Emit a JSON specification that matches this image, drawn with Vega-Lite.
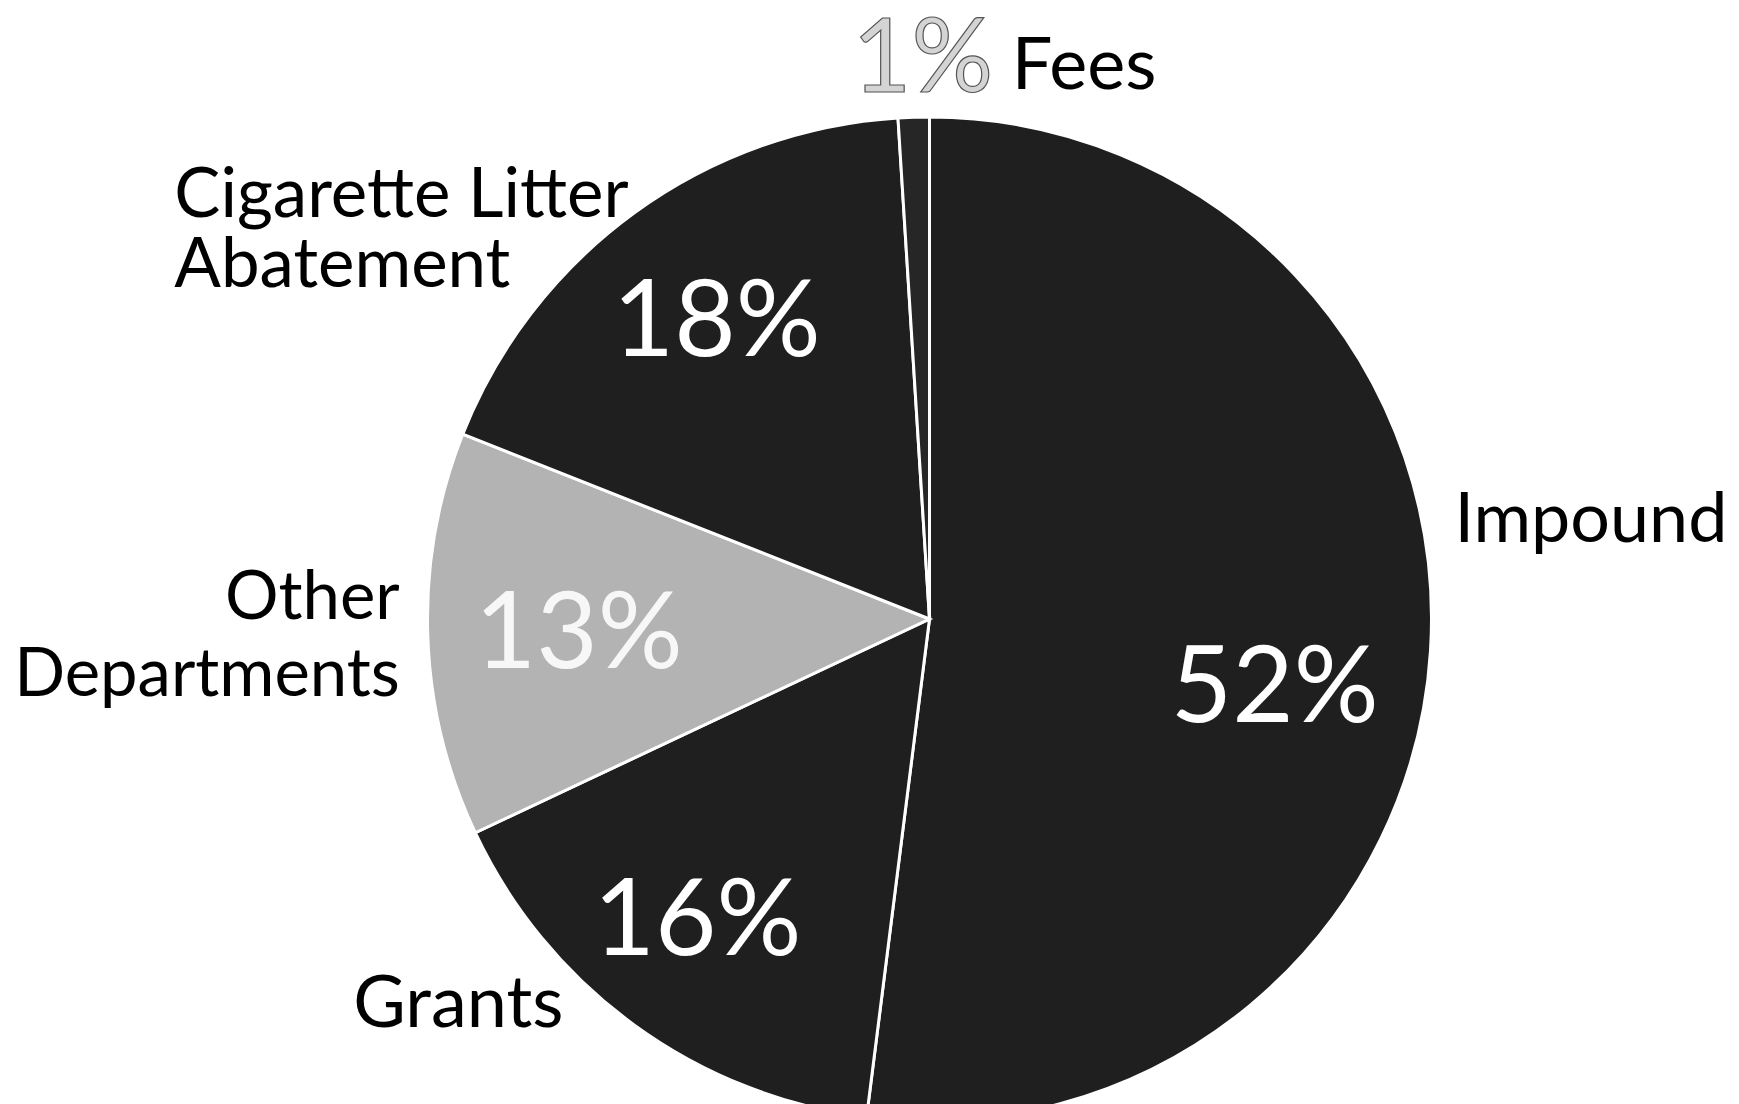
{
  "$schema": "https://vega.github.io/schema/vega-lite/v6.json",
  "autosize": {"type": "fit", "contains": "padding"},
  "width": 1739,
  "height": 1104,
  "padding": {"left": 3, "top": 0, "right": 0, "bottom": 0},
  "background": "white",
  "config": {"view": {"stroke": null}, "text": {"font": "Lato"}},
  "data": {
    "values": [
      {"cat": "Impound", "value": 52, "pct": "52%", "name": "Impound", "rank": 1},
      {"cat": "Grants", "value": 16, "pct": "16%", "name": "Grants", "rank": 2},
      {"cat": "Other Departments", "value": 13, "pct": "13%", "name": "Other\nDepartments", "rank": 3},
      {"cat": "Cigarette Litter Abatement", "value": 18, "pct": "18%", "name": "Cigarette Litter\nAbatement", "rank": 4},
      {"cat": "Fees", "value": 1, "pct": "1%", "name": "Fees", "rank": 5}
    ]
  },
  "encoding": {
    "theta": {"field": "value", "type": "quantitative", "stack": true},
    "order": {"field": "rank", "type": "quantitative"},
    "detail": {"field": "cat", "type": "nominal"}
  },
  "layer": [
    {
      "mark": {"type": "arc", "outerRadius": 502, "stroke": "white", "strokeWidth": 3},
      "encoding": {
        "color": {
          "field": "cat", "type": "nominal", "legend": null,
          "scale": {
            "domain": ["Impound", "Grants", "Other Departments", "Cigarette Litter Abatement", "Fees"],
            "range": ["#1f1f1f", "#1f1f1f", "#b3b3b3", "#1f1f1f", "#262626"]
          }
        }
      }
    },
    {
      "mark": {"type": "text", "radius": 345, "dx": 1, "dy": 81, "align": "center", "baseline": "alphabetic", "fontSize": 106, "color": "white"},
      "encoding": {"text": {"condition": {"test": "datum.cat === 'Impound'", "field": "pct"}, "value": ""}}
    },
    {
      "mark": {"type": "text", "radius": 367, "dx": 3, "dy": 34, "align": "center", "baseline": "alphabetic", "fontSize": 106, "color": "white"},
      "encoding": {"text": {"condition": {"test": "datum.cat === 'Cigarette Litter Abatement'", "field": "pct"}, "value": ""}}
    },
    {
      "mark": {"type": "text", "radius": 351, "dx": 0, "dy": 38, "align": "center", "baseline": "alphabetic", "fontSize": 106, "color": "white", "opacity": 0.9},
      "encoding": {"text": {"condition": {"test": "datum.cat === 'Other Departments'", "field": "pct"}, "value": ""}}
    },
    {
      "mark": {"type": "text", "radius": 383, "dx": -7, "dy": 26, "align": "center", "baseline": "alphabetic", "fontSize": 106, "color": "white"},
      "encoding": {"text": {"condition": {"test": "datum.cat === 'Grants'", "field": "pct"}, "value": ""}}
    },
    {
      "mark": {"type": "text", "radius": 565, "dx": 11, "dy": 38, "align": "center", "baseline": "alphabetic", "fontSize": 102, "color": "#d4d4d4", "stroke": "#555555", "strokeWidth": 1.2},
      "encoding": {"text": {"condition": {"test": "datum.cat === 'Fees'", "field": "pct"}, "value": ""}}
    },
    {
      "mark": {"type": "text", "radius": 565, "dx": 100, "dy": 35, "align": "left", "baseline": "alphabetic", "fontSize": 72, "color": "black"},
      "encoding": {"text": {"condition": {"test": "datum.cat === 'Fees'", "field": "name"}, "value": ""}}
    },
    {
      "mark": {"type": "text", "radius": 520, "dx": 6, "dy": -110, "align": "left", "baseline": "alphabetic", "fontSize": 70, "color": "black"},
      "encoding": {"text": {"condition": {"test": "datum.cat === 'Impound'", "field": "name"}, "value": ""}}
    },
    {
      "mark": {"type": "text", "radius": 560, "dx": -426, "dy": 51, "align": "left", "baseline": "alphabetic", "fontSize": 69, "lineHeight": 70, "lineBreak": "\n", "color": "black"},
      "encoding": {"text": {"condition": {"test": "datum.cat === 'Cigarette Litter Abatement'", "field": "name"}, "value": ""}}
    },
    {
      "mark": {"type": "text", "radius": 530, "dx": 0, "dy": -17, "align": "right", "baseline": "alphabetic", "fontSize": 67, "lineHeight": 77, "lineBreak": "\n", "color": "black"},
      "encoding": {"text": {"condition": {"test": "datum.cat === 'Other Departments'", "field": "name"}, "value": ""}}
    },
    {
      "mark": {"type": "text", "radius": 560, "dx": -142, "dy": -45, "align": "center", "baseline": "alphabetic", "fontSize": 72, "color": "black"},
      "encoding": {"text": {"condition": {"test": "datum.cat === 'Grants'", "field": "name"}, "value": ""}}
    }
  ]
}
